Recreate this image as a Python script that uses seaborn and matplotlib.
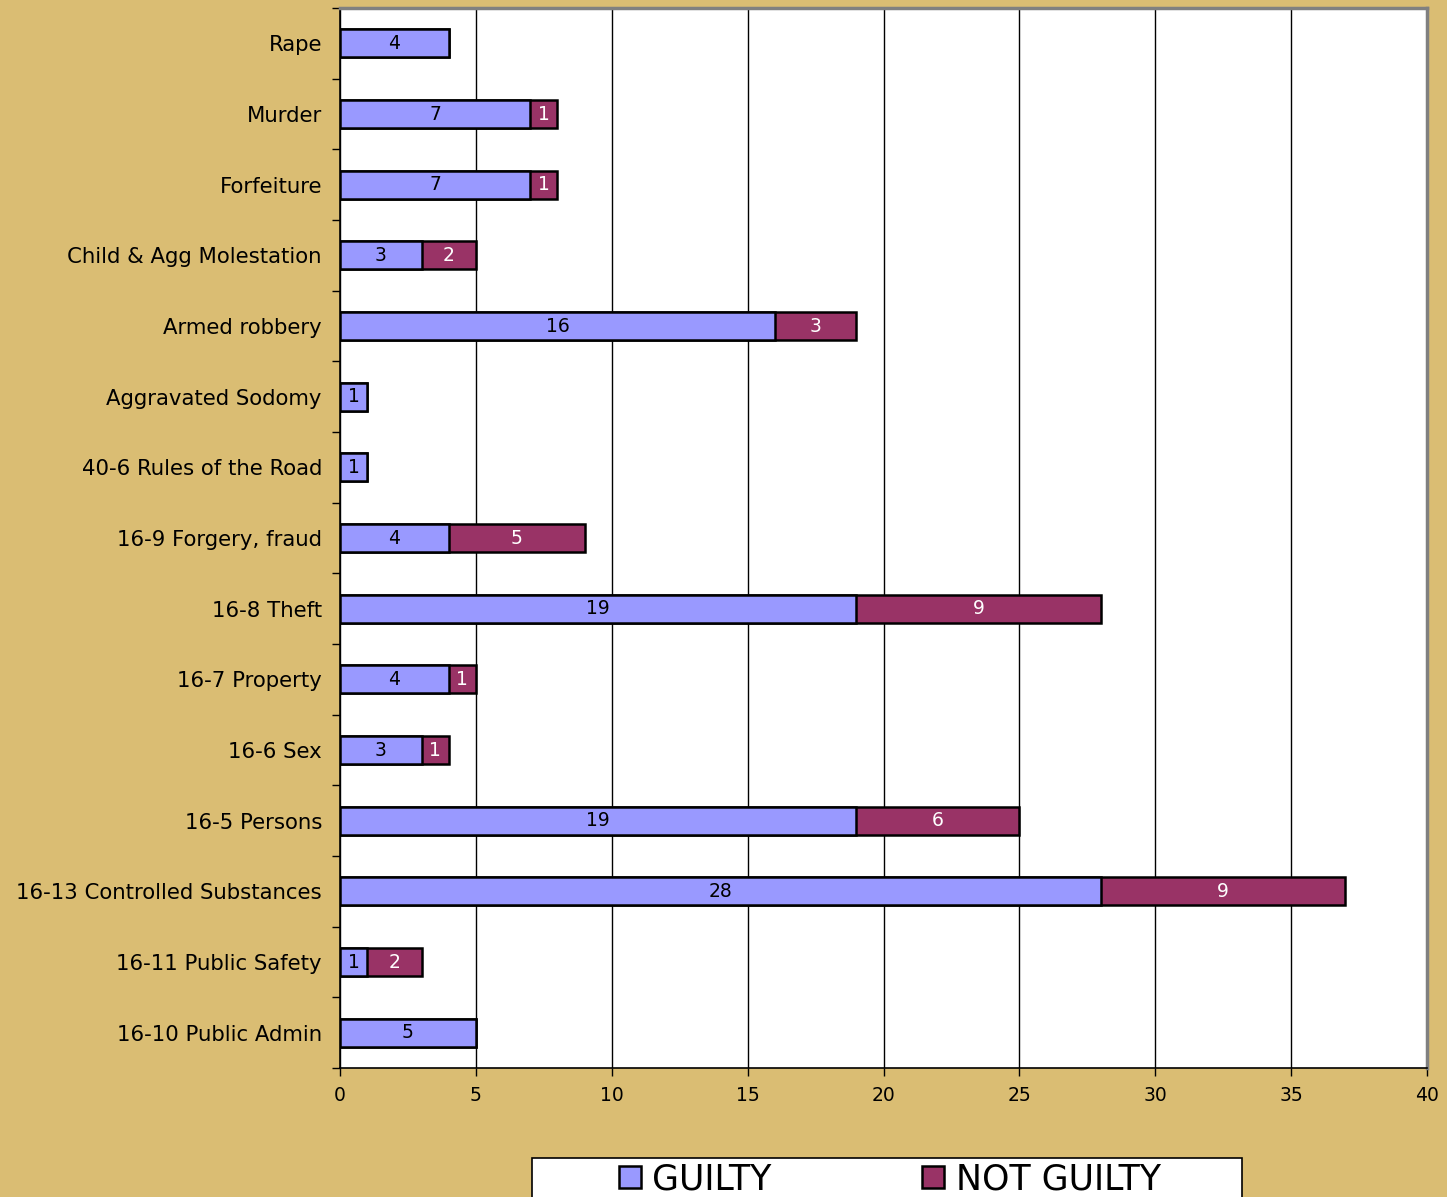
import matplotlib
matplotlib.use("Agg")
import matplotlib.pyplot as plt
import numpy as np
import pandas as pd
import seaborn as sns
from matplotlib.lines import Line2D
from matplotlib.patches import Rectangle

categories = ["Rape", "Murder", "Forfeiture", "Child & Agg Molestation",
              "Armed robbery", "Aggravated Sodomy", "40-6 Rules of the Road",
              "16-9 Forgery, fraud", "16-8 Theft", "16-7 Property", "16-6 Sex",
              "16-5 Persons", "16-13 Controlled Substances",
              "16-11 Public Safety", "16-10 Public Admin"]
guilty = [4, 7, 7, 3, 16, 1, 1, 4, 19, 4, 3, 19, 28, 1, 5]
not_guilty = [0, 1, 1, 2, 3, 0, 0, 5, 9, 1, 1, 6, 9, 2, 0]
xticks = [0, 5, 10, 15, 20, 25, 30, 35, 40]

bg = "#DABD73"
blue = "#9999FF"
maroon = "#993366"

df = pd.DataFrame({"category": categories, "guilty": guilty, "not_guilty": not_guilty})
df["total"] = df["guilty"] + df["not_guilty"]

sns.set_theme(style="white")
plt.rcParams["font.family"] = ["DejaVu Sans"]
plt.rcParams["text.color"] = "black"
plt.rcParams["xtick.labelcolor"] = "black"
plt.rcParams["ytick.labelcolor"] = "black"

fig = plt.figure(figsize=(14.47, 11.97), dpi=100, facecolor=bg)
ax = fig.add_axes([340 / 1447, 1 - 1068 / 1197, 1087 / 1447, 1060 / 1197])
ax.set_facecolor("white")

# total bar first (maroon), guilty bar drawn over it
sns.barplot(data=df, y="category", x="total", color=maroon, width=0.4,
            edgecolor="black", linewidth=1.8, saturation=1, ax=ax, zorder=3)
sns.barplot(data=df, y="category", x="guilty", color=blue, width=0.4,
            edgecolor="black", linewidth=1.8, saturation=1, ax=ax, zorder=4)

for i, (g, n) in enumerate(zip(guilty, not_guilty)):
    if g > 0:
        ax.text(g / 2, i, str(g), ha="center", va="center", fontsize=13.5,
                color="black", zorder=5)
    if n > 0:
        ax.text(g + n / 2, i, str(n), ha="center", va="center", fontsize=13.5,
                color="white", zorder=5)

ax.set_xlim(0, 40)
ax.set_ylim(len(categories) - 0.5, -0.5)
ax.set_xticks(xticks)
ax.set_xticklabels([str(t) for t in xticks], fontsize=13.5)
ax.set_xlabel("")
ax.set_ylabel("")
ax.tick_params(axis="y", which="major", length=0, pad=13, labelsize=15.3)
ax.set_yticks(np.arange(-0.5, len(categories), 1), minor=True)
ax.tick_params(axis="y", which="minor", length=6, width=1, color="black",
               direction="out", left=True)
ax.tick_params(axis="x", which="major", length=6, width=1, color="black",
               direction="out", bottom=True, pad=7)
ax.grid(axis="x", color="black", linewidth=1, zorder=0)
ax.set_axisbelow(True)

for side in ["left", "bottom"]:
    ax.spines[side].set_color("black")
    ax.spines[side].set_linewidth(1.2)
for side in ["top", "right"]:
    ax.spines[side].set_color("#808080")
    ax.spines[side].set_linewidth(2.5)

# legend box, running off the bottom edge like the original
fig.patches.append(Rectangle((532 / 1447, -0.1), 710 / 1447, 0.1 + (1197 - 1158) / 1197,
                             transform=fig.transFigure, facecolor="white",
                             edgecolor="black", linewidth=1.2, zorder=1))
handles = [Line2D([], [], marker="s", linestyle="none", markersize=16.5,
                  markerfacecolor=blue, markeredgecolor="black", markeredgewidth=1.8),
           Line2D([], [], marker="s", linestyle="none", markersize=16.5,
                  markerfacecolor=maroon, markeredgecolor="black", markeredgewidth=1.8)]
leg = fig.legend(handles, ["GUILTY", "NOT GUILTY"], ncol=2, loc="center",
                 bbox_to_anchor=(889 / 1447, 1 - 1179 / 1197),
                 prop={"family": "DejaVu Sans", "size": 25},
                 frameon=False, handlelength=0.7, handletextpad=0.3,
                 borderpad=0, borderaxespad=0, columnspacing=4.3)
leg.set_zorder(2)

fig.savefig("out.png", dpi=100, facecolor=bg)
